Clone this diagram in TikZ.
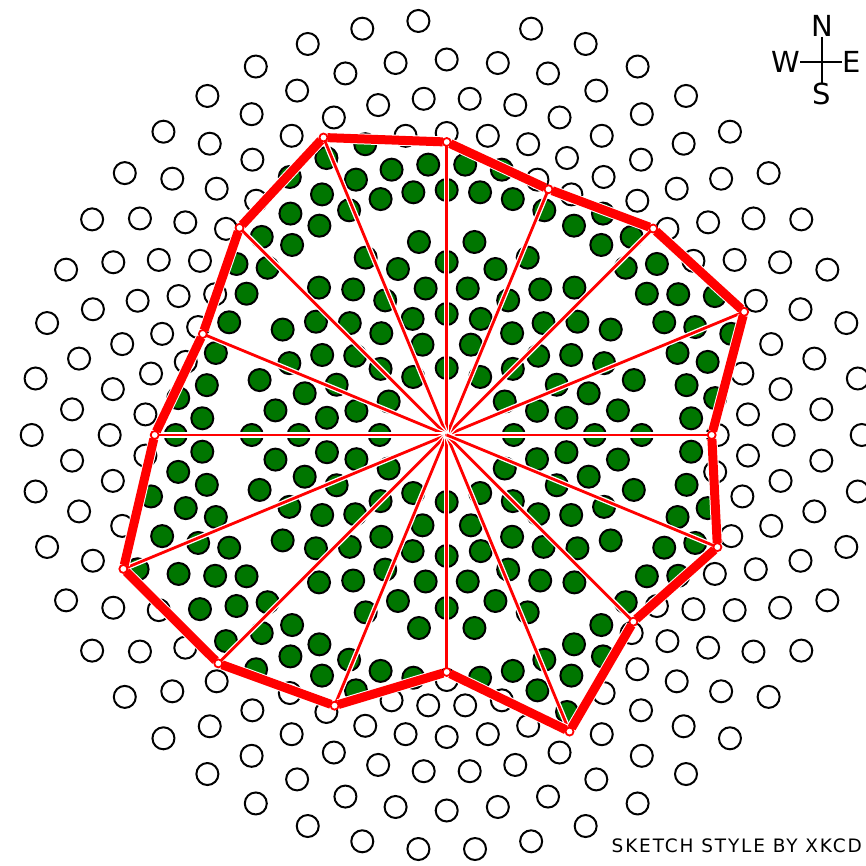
\documentclass[tikz,border=0pt]{standalone}
\usepackage{fontspec}
\setmainfont{DejaVu Sans}
\newfontfamily\sigfont[LetterSpace=10]{DejaVu Sans}
\usetikzlibrary{positioning}
\definecolor{seedgreen}{RGB}{0,118,0}
\definecolor{hullred}{RGB}{255,0,0}
% hull corner radii (in 100 units), one per 22.5 degrees, first repeated at the end
\def\hullrad{{2.65,3.22,2.92,2.66,2.93,3.22,2.93,2.64,2.92,3.50,3.23,2.93,2.37,3.21,2.64,2.93,2.65}}

\begin{document}
\begin{tikzpicture}[
      x=1pt, y=1pt,
      cell/.style   ={draw=black, line width=2pt, fill=white},
      spoke/.style  ={draw=white, line width=1.3pt, double=hullred,
                      double distance=2.8pt},
      hull/.style   ={draw=white, line width=1pt, double=hullred,
                      double distance=9pt, shorten <=4pt, shorten >=4pt},
      corner/.style ={circle, draw=hullred, fill=white, line width=1.8pt,
                      inner sep=0pt, minimum size=8pt},
      lbl/.style    ={font=\fontsize{29}{29}\selectfont, inner sep=0pt},
      sig/.style    ={font=\sigfont\fontsize{18.5}{18.5}\selectfont, inner sep=0pt}
    ]
    \useasboundingbox[fill=white] (0,0) rectangle (866,865);
    \begin{scope}[shift={(446.7,430)}]
      % --- seeds on rings: radius / count / half-step offset ---
      \foreach \rr/\nn/\oo [count=\ii] in {67/12/0, 93.5/12/0.5, 121/22/0.5,
          148/22/0, 173/22/0.5, 195/22/0, 245/46/0.5, 271/46/0,
          302/46/0.5, 337/46/0, 375.5/46/0.5, 415/46/0}{
        \foreach \jj in {1,...,\nn}{
          \pgfmathsetmacro\ang{mod((\jj-1+\oo)*360/\nn,360)}
          \pgfmathtruncatemacro\secno{floor(\ang/22.5)}
          \pgfmathsetmacro\Ra{\hullrad[\secno]}
          \pgfmathsetmacro\Rb{\hullrad[\secno+1]}
          \pgfmathsetmacro\redge{\Ra*\Rb*sin(22.5)/(\Ra*sin(\ang-22.5*\secno)+\Rb*sin(22.5*(\secno+1)-\ang))}
          \pgfmathtruncatemacro\inside{(\rr/100<\redge) ? 1 : 0}
          \pgfmathtruncatemacro\gone{(\ii==12 && \jj==12) ? 1 : 0}
          \ifnum\inside=1 \def\cellcol{seedgreen}\else\def\cellcol{white}\fi
          \ifnum\gone=0 \draw[cell, fill=\cellcol] (\ang:\rr) circle[radius=11];\fi
        }
      }
      % --- hull corners ---
      \coordinate (c) at (0,0);
      \foreach \k in {0,...,15}{
        \pgfmathsetmacro\vr{100*\hullrad[\k]}
        \coordinate (v\k) at (\k*22.5:\vr);
      }
      % --- spokes and hull ---
      \foreach \k in {0,...,15} \draw[spoke] (c) -- (v\k);
      \foreach \k [evaluate=\k as \kn using {int(mod(\k+1,16))}] in {0,...,15}
        \draw[hull] (v\k) -- (v\kn);
      \foreach \k in {0,...,15} \node[corner] (m\k) at (v\k) {};
    \end{scope}
    % --- compass ---
    \coordinate (cmp) at (822,803);
    \node[lbl, above=25pt of cmp] (cN) {N};
    \node[lbl, below=21pt of cmp] (cS) {S};
    \node[lbl, left=22pt of cmp]  (cW) {W};
    \node[lbl, right=20pt of cmp] (cE) {E};
    \draw[line width=2.5pt] (cN.south) -- (cS.north);
    \draw[line width=2.5pt] (cW.east) -- (cE.west);
    % --- credit ---
    \node[sig, anchor=base east] (credit) at (862,13) {SKETCH STYLE BY XKCD};
\end{tikzpicture}
\end{document}
